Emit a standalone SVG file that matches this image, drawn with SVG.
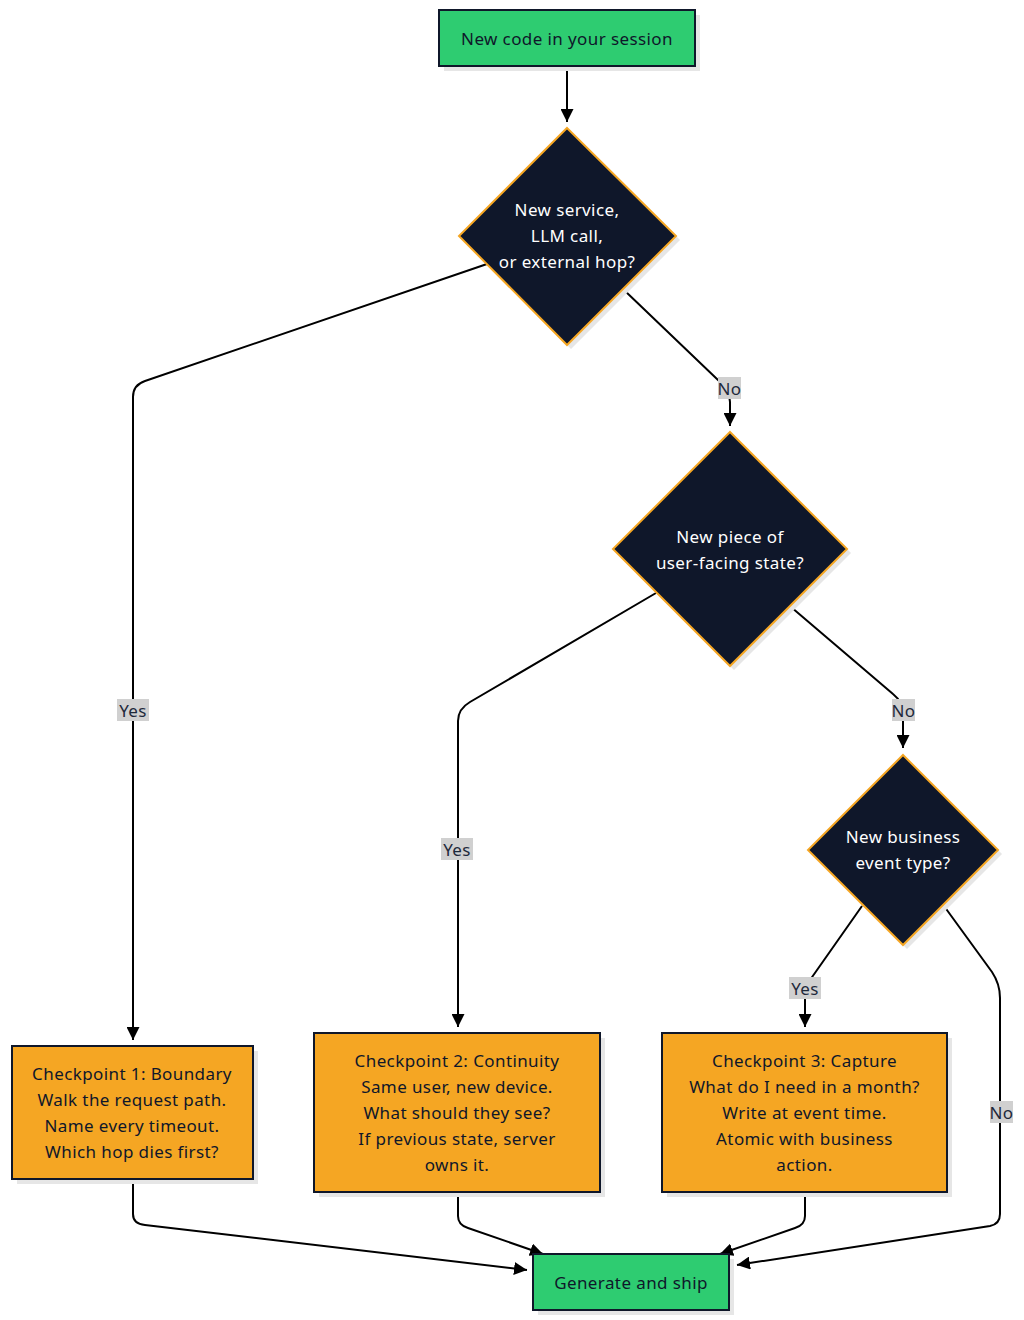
<svg xmlns="http://www.w3.org/2000/svg" width="1024" height="1320" viewBox="0 0 1024 1320">
<style>
.t{font-family:"Noto Sans","Open Sans","DejaVu Sans",sans-serif;font-size:17px;letter-spacing:0.4px;text-anchor:middle;dominant-baseline:central}
.dark{fill:#0f172a}
.light{fill:#ffffff}
.green{fill:#2ecc71;stroke:#0f172a;stroke-width:2}
.orange{fill:#f5a623;stroke:#0f172a;stroke-width:2}
.dia{fill:#0f172a;stroke:#f5a623;stroke-width:2}
.shadow{fill:#e6e6e6}
.edge{fill:none;stroke:#000;stroke-width:2}
.lbl{fill:#d0d0d0}
.lt{font-family:"Noto Sans","Open Sans","DejaVu Sans",sans-serif;font-size:17px;letter-spacing:0.3px;text-anchor:middle;dominant-baseline:central;fill:#1e293b}
</style>
<defs>
<marker id="arr" viewBox="0 0 10 10" refX="10" refY="5" markerWidth="13" markerHeight="13" markerUnits="userSpaceOnUse" orient="auto">
<path d="M0,0 L10,5 L0,10 z" fill="#000"/>
</marker>
</defs>

<g id="connectors">
<path class="edge" d="M567,66 L567,122" marker-end="url(#arr)"/>
<path class="edge" d="M487,264 L145,381 Q133,385 133,397 L133,1040" marker-end="url(#arr)"/>
<path class="edge" d="M624,290 L718,380 Q730,390 730,402 L730,426" marker-end="url(#arr)"/>
<path class="edge" d="M656,593 L470,702 Q458,709 458,721 L458,1027" marker-end="url(#arr)"/>
<path class="edge" d="M791,607 L893,694 Q903,702 903,714 L903,748" marker-end="url(#arr)"/>
<path class="edge" d="M862,906 L810,980 Q805,987 805,996 L805,1027" marker-end="url(#arr)"/>
<path class="edge" d="M944,906 L992,972 Q1000,984 1000,998 L1000,1214 Q1000,1224 990,1226 L737,1265" marker-end="url(#arr)"/>
<path class="edge" d="M133,1179 L133,1214 Q133,1224 145,1225 L527,1270" marker-end="url(#arr)"/>
<path class="edge" d="M458,1192 L458,1216 Q458,1225 468,1228 L543,1254" marker-end="url(#arr)"/>
<path class="edge" d="M805,1192 L805,1216 Q805,1225 795,1228 L720,1254" marker-end="url(#arr)"/>
<g id="labels">
<rect class="lbl" x="117" y="699" width="32" height="22"/><text class="lt" x="133" y="710">Yes</text>
<rect class="lbl" x="718" y="377" width="23" height="22"/><text class="lt" x="729.5" y="388">No</text>
<rect class="lbl" x="441" y="838" width="32" height="22"/><text class="lt" x="457" y="849">Yes</text>
<rect class="lbl" x="892" y="699" width="23" height="22"/><text class="lt" x="903.5" y="710">No</text>
<rect class="lbl" x="789" y="977" width="32" height="22"/><text class="lt" x="805" y="988">Yes</text>
<rect class="lbl" x="990" y="1101" width="23" height="22"/><text class="lt" x="1001.5" y="1112">No</text>
</g>
</g>

<g id="start">
<rect class="shadow" x="444" y="15" width="256" height="56"/>
<rect class="green" x="439" y="10" width="256" height="56"/>
<text class="t dark" x="567" y="38">New code in your session</text>
</g>

<g id="q1">
<polygon class="shadow" points="571,132 680,240 571,349 463,240"/>
<polygon class="dia" points="567,128 676,236 567,345 459,236"/>
<text class="t light" x="567" y="209">New service,</text>
<text class="t light" x="567" y="235">LLM call,</text>
<text class="t light" x="567" y="261">or external hop?</text>
</g>

<g id="q2">
<polygon class="shadow" points="734,436 851,553 734,670 617,553"/>
<polygon class="dia" points="730,432 847,549 730,666 613,549"/>
<text class="t light" x="730" y="536">New piece of</text>
<text class="t light" x="730" y="562">user-facing state?</text>
</g>

<g id="q3">
<polygon class="shadow" points="907,759 1002,854 907,949 812,854"/>
<polygon class="dia" points="903,755 998,850 903,945 808,850"/>
<text class="t light" x="903" y="836">New business</text>
<text class="t light" x="903" y="862">event type?</text>
</g>

<g id="cp1">
<rect class="shadow" x="17" y="1051" width="241" height="133"/>
<rect class="orange" x="12" y="1046" width="241" height="133"/>
<text class="t dark" x="132" y="1073">Checkpoint 1: Boundary</text>
<text class="t dark" x="132" y="1099">Walk the request path.</text>
<text class="t dark" x="132" y="1125">Name every timeout.</text>
<text class="t dark" x="132" y="1151">Which hop dies first?</text>
</g>

<g id="cp2">
<rect class="shadow" x="319" y="1038" width="286" height="159"/>
<rect class="orange" x="314" y="1033" width="286" height="159"/>
<text class="t dark" x="457" y="1060">Checkpoint 2: Continuity</text>
<text class="t dark" x="457" y="1086">Same user, new device.</text>
<text class="t dark" x="457" y="1112">What should they see?</text>
<text class="t dark" x="457" y="1138">If previous state, server</text>
<text class="t dark" x="457" y="1164">owns it.</text>
</g>

<g id="cp3">
<rect class="shadow" x="667" y="1038" width="285" height="159"/>
<rect class="orange" x="662" y="1033" width="285" height="159"/>
<text class="t dark" x="804.5" y="1060">Checkpoint 3: Capture</text>
<text class="t dark" x="804.5" y="1086">What do I need in a month?</text>
<text class="t dark" x="804.5" y="1112">Write at event time.</text>
<text class="t dark" x="804.5" y="1138">Atomic with business</text>
<text class="t dark" x="804.5" y="1164">action.</text>
</g>

<g id="ship">
<rect class="shadow" x="538" y="1259" width="196" height="56"/>
<rect class="green" x="533" y="1254" width="196" height="56"/>
<text class="t dark" x="631" y="1282">Generate and ship</text>
</g>
</svg>
